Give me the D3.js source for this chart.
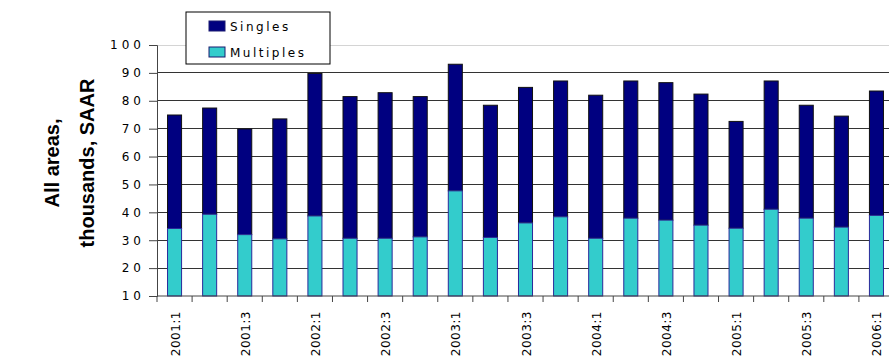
<!DOCTYPE html>
<html>
<head>
<meta charset="utf-8">
<script src="https://cdn.jsdelivr.net/npm/d3@7"></script>
<style>
  body { margin: 0; background: #fff; }
  text { font-family: "Liberation Sans", Arial, sans-serif; }
</style>
</head>
<body>
<div id="chart"></div>
<script>
  // datos
  var quarters = ["2001:1","2001:2","2001:3","2001:4","2002:1","2002:2","2002:3","2002:4",
                  "2003:1","2003:2","2003:3","2003:4","2004:1","2004:2","2004:3","2004:4",
                  "2005:1","2005:2","2005:3","2005:4","2006:1"];
  var totals = [74.9, 77.4, 69.9, 73.5, 89.8, 81.5, 82.9, 81.5,
                93.1, 78.4, 84.8, 87.1, 82.0, 87.1, 86.5, 82.4,
                72.6, 87.1, 78.4, 74.5, 83.5];
  var multiples = [34.2, 39.3, 32.0, 30.5, 38.7, 30.7, 30.7, 31.2,
                   47.7, 31.0, 36.2, 38.4, 30.7, 37.9, 37.2, 35.4,
                   34.3, 41.1, 37.9, 34.7, 38.9];
  var yTicks = [10, 20, 30, 40, 50, 60, 70, 80, 90, 100];
  var xLabels = quarters.filter(function(d, i) { return i % 2 == 0; });

  var W = 889, H = 356;
  var margin = {top: 45, left: 157, bottom: 60};
  var plotW = 737, plotH = H - margin.top - margin.bottom;

  var svg = d3.select("#chart").append("svg")
    .attr("width", W).attr("height", H);

  var g = svg.append("g")
    .attr("transform", "translate(" + margin.left + "," + margin.top + ")");

  var x = d3.scaleBand().domain(quarters).range([0, plotW]).paddingInner(0.6).paddingOuter(0.3);
  var y = d3.scaleLinear().domain([10, 100]).range([plotH, 0]);

  // lineas de la rejilla
  g.selectAll(".grid")
    .data(yTicks.filter(function(d) { return d > 10; }))
    .enter().append("line")
      .attr("x1", 0).attr("x2", plotW)
      .attr("y1", function(d) { return y(d); })
      .attr("y2", function(d) { return y(d); })
      .style("stroke", function(d) { return d == 100 ? "#d4d4d4" : "#333"; })
      .style("stroke-width", 1)
      .attr("shape-rendering", "crispEdges");

  // barras de solteros (total) y multiples encima
  g.selectAll(".single")
    .data(quarters).enter().append("rect")
      .attr("x", function(d) { return x(d); })
      .attr("width", x.bandwidth())
      .attr("y", function(d, i) { return y(totals[i]); })
      .attr("height", function(d, i) { return y(multiples[i]) - y(totals[i]); })
      .style("fill", "#000080")
      .style("stroke", "#111")
      .style("stroke-width", 1);

  g.selectAll(".multi")
    .data(quarters).enter().append("rect")
      .attr("x", function(d) { return x(d); })
      .attr("width", x.bandwidth())
      .attr("y", function(d, i) { return y(multiples[i]); })
      .attr("height", function(d, i) { return y(10) - y(multiples[i]); })
      .style("fill", "#33CCCC")
      .style("stroke", "#2a2a9a")
      .style("stroke-width", 1);

  // eje y
  var yAxis = g.append("g")
    .call(d3.axisLeft(y).tickValues(yTicks).tickSize(8).tickPadding(4));
  yAxis.select(".domain").style("stroke", "#444");
  yAxis.selectAll(".tick line").style("stroke", "#444");
  yAxis.selectAll("text")
    .style("font-size", "12px")
    .style("letter-spacing", "4px")
    .style("font-family", "'DejaVu Sans', sans-serif")
    .style("fill", "#000");

  // eje x
  var step = x.step();
  var xAxis = g.append("g")
    .attr("transform", "translate(0," + plotH + ")");
  xAxis.append("line")
    .attr("x1", 0).attr("x2", plotW)
    .style("stroke", "#444");
  xAxis.selectAll(".xt")
    .data(d3.range(quarters.length + 1)).enter().append("line")
      .attr("x1", function(i) { return i * step; })
      .attr("x2", function(i) { return i * step; })
      .attr("y1", 0).attr("y2", 6)
      .style("stroke", "#444");
  xAxis.selectAll(".xl")
    .data(xLabels).enter().append("text")
      .attr("transform", function(d) {
        return "translate(" + (x(d) + x.bandwidth() / 2 + 5) + ",15) rotate(-90)";
      })
      .style("text-anchor", "end")
      .style("font-size", "12px")
      .style("letter-spacing", "0.5px")
      .style("font-family", "'DejaVu Sans', sans-serif")
      .text(function(d) { return d; });

  // titulo del eje y
  var title = svg.append("text")
    .attr("transform", "translate(70,163) rotate(-90)")
    .style("text-anchor", "middle")
    .style("font-size", "20px")
    .style("font-weight", "bold");
  title.append("tspan").attr("x", 0).attr("dy", "-0.55em").text("All areas,");
  title.append("tspan").attr("x", 0).attr("dy", "1.75em").text("thousands, SAAR");

  // leyenda
  var leg = svg.append("g").attr("transform", "translate(186,12)");
  leg.append("rect")
    .attr("width", 144).attr("height", 52)
    .style("fill", "#fff").style("stroke", "#000").style("stroke-width", 1);
  var items = [{name: "Singles", color: "#000080"}, {name: "Multiples", color: "#33CCCC"}];
  var li = leg.selectAll(".li").data(items).enter().append("g")
    .attr("transform", function(d, i) { return "translate(23," + (9 + i * 26) + ")"; });
  li.append("rect")
    .attr("width", 16).attr("height", 10)
    .style("fill", function(d) { return d.color; })
    .style("stroke", "#1a1a70");
  li.append("text")
    .attr("x", 21).attr("y", 10)
    .style("font-size", "12px")
    .style("letter-spacing", "2.5px")
    .style("font-family", "'DejaVu Sans', sans-serif")
    .text(function(d) { return d.name; });
</script>
</body>
</html>
